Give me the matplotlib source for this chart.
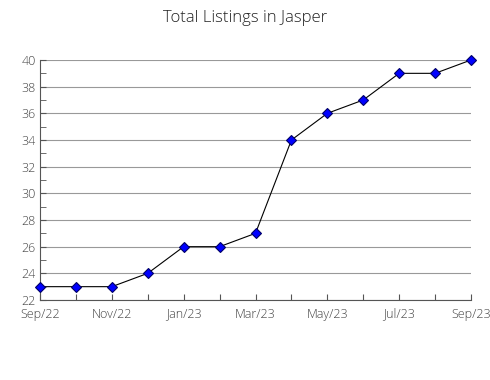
import matplotlib
matplotlib.use("Agg")
import matplotlib.pyplot as plt
from matplotlib.ticker import MultipleLocator

months = ["Sep/22", "Oct/22", "Nov/22", "Dec/22", "Jan/23", "Feb/23", "Mar/23",
          "Apr/23", "May/23", "Jun/23", "Jul/23", "Aug/23", "Sep/23"]
listings = [23, 23, 23, 24, 26, 26, 27, 34, 36, 37, 39, 39, 40]
title = "Total Listings in Jasper"

plt.rcParams['font.family'] = ['Open Sans', 'DejaVu Sans']
plt.rcParams['font.weight'] = 'light'

fig = plt.figure(figsize=(4.9, 3.8), dpi=100)
ax = fig.add_axes([40/490, 1-300/380, (471-40)/490, 240/380])

x = list(range(len(months)))
ax.plot(x, listings, color='black', lw=0.8, marker='D', markersize=5.5,
        markerfacecolor='#0000ff', markeredgecolor='#000066', markeredgewidth=0.8,
        zorder=3, clip_on=False)

ax.set_xlim(0, len(months)-1)
ax.set_ylim(22, 40)
ax.set_xticks(x)
ax.set_xticklabels([m if i % 2 == 0 else "" for i, m in enumerate(months)])
ax.yaxis.set_major_locator(MultipleLocator(2))
ax.yaxis.set_minor_locator(MultipleLocator(1))
ax.grid(axis='y', which='major', color='#999999', lw=0.8)
ax.set_axisbelow(True)
for s in ['top', 'right']:
    ax.spines[s].set_visible(False)
for s in ['left', 'bottom']:
    ax.spines[s].set_color('#555555')
ax.tick_params(axis='both', which='both', direction='in', colors='#555555',
               labelcolor='#444444', labelsize=9, length=4, pad=3)
ax.tick_params(axis='x', pad=5.5)

fig.suptitle(title, y=0.975, fontsize=12, color='#222222', fontweight='light')
fig.savefig("out.png", dpi=100)
